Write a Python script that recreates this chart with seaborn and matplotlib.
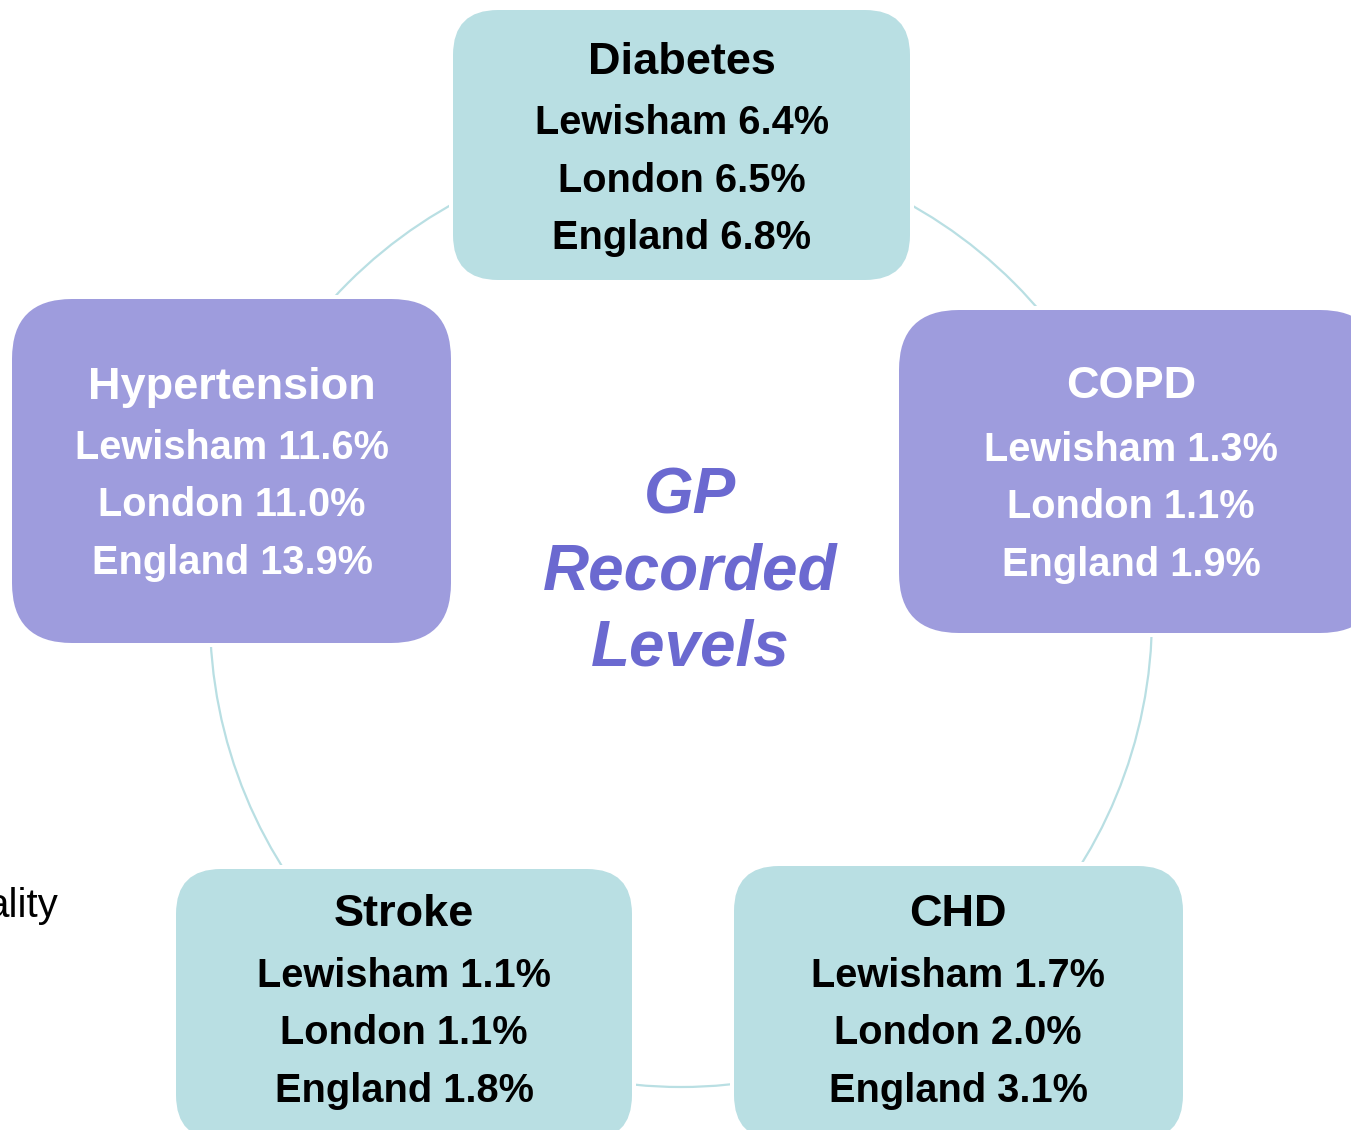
import matplotlib
matplotlib.use("Agg")
import matplotlib.pyplot as plt
from matplotlib.patches import FancyBboxPatch, Circle
import seaborn as sns

sns.set_theme(style="white")
plt.rcParams['font.family'] = ['Liberation Sans', 'DejaVu Sans']

# ---- data ----
conditions = ["Diabetes", "Hypertension", "COPD", "Stroke", "CHD"]
areas = ["Lewisham", "London", "England"]
lewisham = [6.4, 11.6, 1.3, 1.1, 1.7]
london = [6.5, 11.0, 1.1, 1.1, 2.0]
england = [6.8, 13.9, 1.9, 1.8, 3.1]
center_title = ["GP", "Recorded", "Levels"]

# ---- layout (pixels) ----
boxes = [  # x0, y0, x1, y1, radius, style
    (453, 10, 910, 280, 45, "teal"),
    (12, 299, 451, 643, 60, "purple"),
    (899, 310, 1380, 633, 60, "purple"),
    (176, 869, 632, 1140, 45, "teal"),
    (734, 866, 1183, 1140, 45, "teal"),
]
text_pos = [  # cx, title_y, first_line_y
    (682, 62, 123),
    (232, 388, 448),
    (1131, 386, 450),
    (404, 915, 976),
    (958, 915, 976),
]
line_gap = 57.5
colors = {"teal": ("#B9DFE3", "black"), "purple": ("#9E9CDD", "white")}

W, H = 1351, 1130
fig = plt.figure(figsize=(W / 100, H / 100), dpi=100)
ax = fig.add_axes([0, 0, 1, 1])
ax.set_xlim(0, W)
ax.set_ylim(H, 0)
ax.axis("off")

# ring
ax.add_patch(Circle((681, 616), 471, fill=False, edgecolor="#B9DFE3",
                    linewidth=1.6, zorder=1))

values = list(zip(lewisham, london, england))
pad = 4
for i, cond in enumerate(conditions):
    x0, y0, x1, y1, r, style = boxes[i]
    fc, tc = colors[style]
    # white halo that separates the ring from the boxes
    ax.add_patch(FancyBboxPatch((x0 - pad, y0 - pad), x1 - x0 + 2 * pad,
                                y1 - y0 + 2 * pad,
                                boxstyle=f"round,pad=0,rounding_size={r + pad}",
                                facecolor="white", edgecolor="none", zorder=2))
    ax.add_patch(FancyBboxPatch((x0, y0), x1 - x0, y1 - y0,
                                boxstyle=f"round,pad=0,rounding_size={r}",
                                facecolor=fc, edgecolor="none", zorder=2.5))
    cx, ty, ly = text_pos[i]
    ax.text(cx, ty, cond, ha="center", va="center", fontsize=32.5,
            fontweight="bold", color=tc, zorder=3)
    for j, (area, v) in enumerate(zip(areas, values[i])):
        ax.text(cx, ly + j * line_gap, f"{area} {v:.1f}%", ha="center",
                va="center", fontsize=28.6, fontweight="bold", color=tc, zorder=3)

for k, word in enumerate(center_title):
    ax.text(690, 496 + k * 76.5, word, ha="center", va="center", fontsize=46,
            fontweight="bold", fontstyle="italic", color="#6B69D0", zorder=3)

ax.text(58, 906, "ality", ha="right", va="center", fontsize=29,
        color="black", zorder=3)

fig.savefig("out.png", dpi=100)
